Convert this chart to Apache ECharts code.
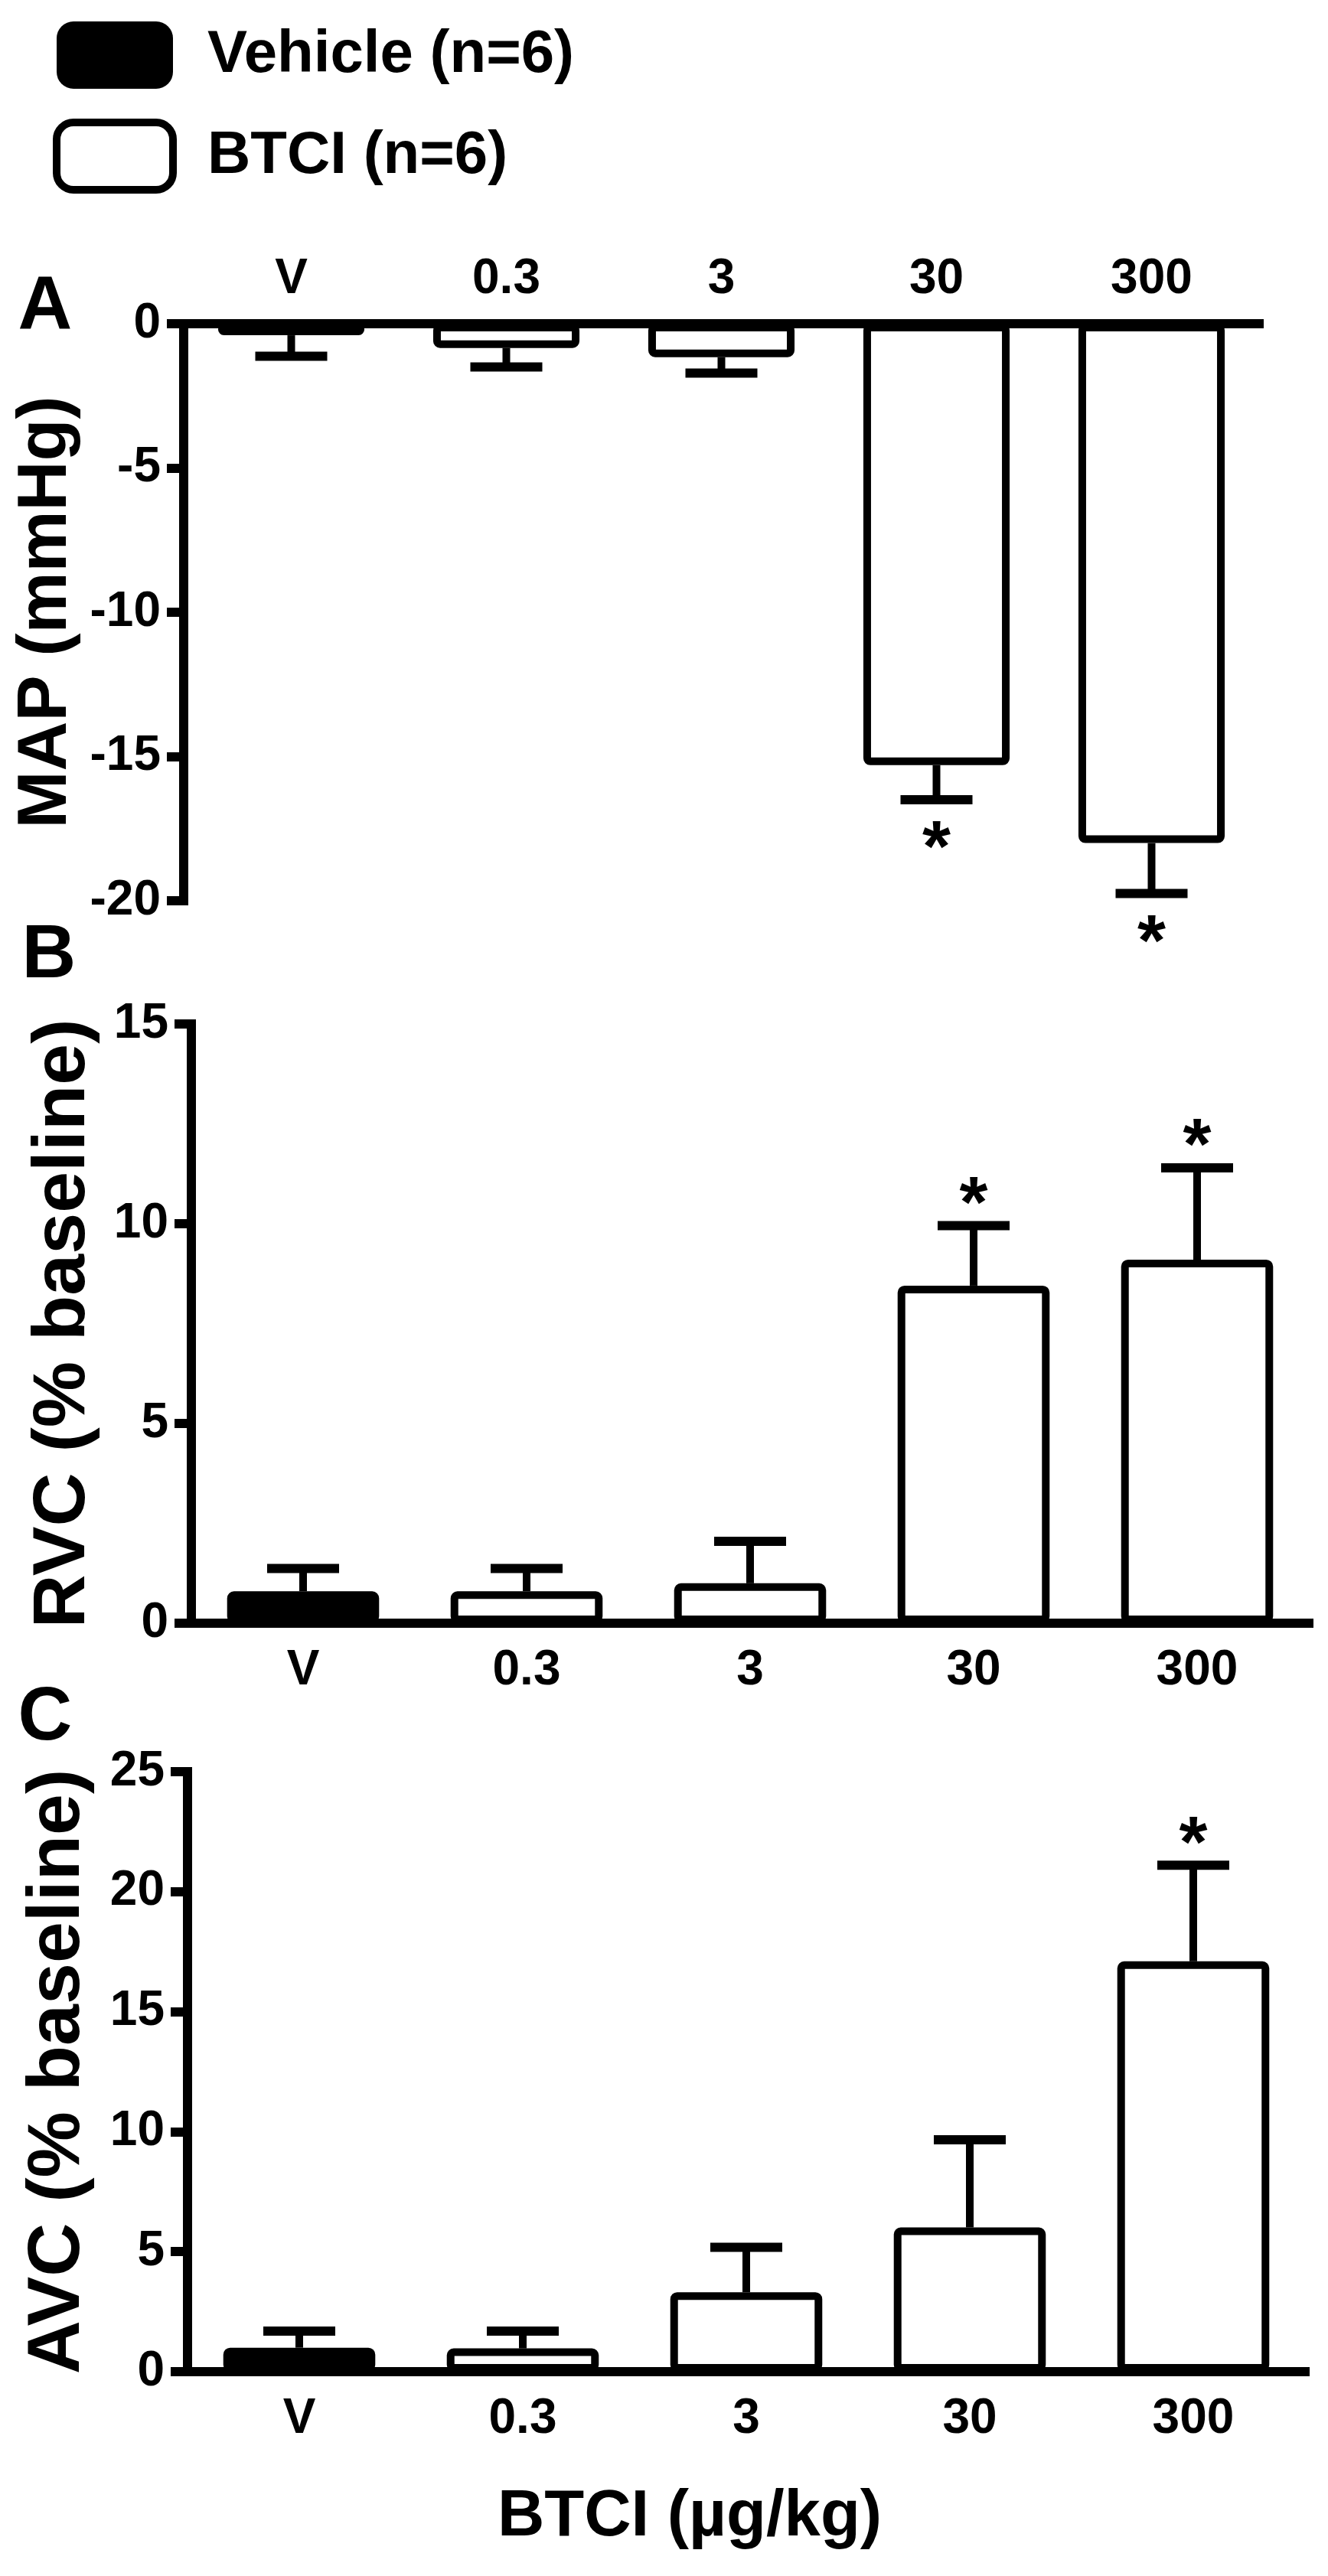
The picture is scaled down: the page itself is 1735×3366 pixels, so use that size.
<!DOCTYPE html>
<html>
<head>
<meta charset="utf-8">
<script src="https://cdn.jsdelivr.net/npm/echarts@6/dist/echarts.min.js"></script>
<style>
html,body{margin:0;padding:0;background:#fff;}
#chart{width:1735px;height:3366px;}
</style>
</head>
<body>
<div id="chart"></div>
<script>
// ---- data ----
const categories = ['V', '0.3', '3', '30', '300'];
const seriesNames = ['Vehicle (n=6)', 'BTCI (n=6)'];

const mapMean = [-0.4, -0.84, -1.16, -15.3, -18.0];
const mapErr  = [0.73, 0.66, 0.55, 1.2, 1.75];
const mapSig  = [0, 0, 0, 1, 1];

const rvcMean = [0.8, 0.8, 1.0, 8.45, 9.1];
const rvcErr  = [0.57, 0.57, 1.05, 1.5, 2.3];
const rvcSig  = [0, 0, 0, 1, 1];

const avcMean = [1.0, 0.97, 3.31, 6.01, 17.1];
const avcErr  = [0.69, 0.72, 1.87, 3.65, 4.0];
const avcSig  = [0, 0, 0, 0, 1];

const yTitles = ['MAP (mmHg)', 'RVC (% baseline)', 'AVC (% baseline)'];
const yRanges = [[-20, 0], [0, 15], [0, 25]];
const panelLetters = ['A', 'B', 'C'];
const xTitle = 'BTCI (\u00b5g/kg)';

// ---- styling ----
const FONT = '"Liberation Sans", Arial, Helvetica, sans-serif';
const chart = echarts.init(document.getElementById('chart'), null, {renderer: 'canvas'});

const grids = [
  {left: 240, top: 423, width: 1405, height: 754},
  {left: 250, top: 1338, width: 1460, height: 783},
  {left: 245, top: 2315, width: 1460, height: 784}
];
const nameGaps = [125, 118, 120];
const titleSizes = [90, 97, 97];
const panels = [
  {mean: mapMean, err: mapErr, sig: mapSig},
  {mean: rvcMean, err: rvcErr, sig: rvcSig},
  {mean: avcMean, err: avcErr, sig: avcSig}
];

const xAxes = grids.map((g, k) => ({
  type: 'category', gridIndex: k, data: categories,
  position: k === 0 ? 'top' : 'bottom',
  axisLine: {lineStyle: {color: '#000', width: 12, cap: 'square'}},
  axisTick: {alignWithLabel: true, length: 22, lineStyle: {color: '#000', width: 12}},
  axisLabel: {color: '#000', fontSize: 64, fontWeight: 'bold', fontFamily: FONT, margin: k === 0 ? 26 : 30}
}));

const yAxes = grids.map((g, k) => ({
  type: 'value', gridIndex: k, min: yRanges[k][0], max: yRanges[k][1], interval: 5,
  name: yTitles[k], nameLocation: 'middle', nameGap: nameGaps[k],
  nameTextStyle: {color: '#000', fontSize: titleSizes[k], fontWeight: 'bold', fontFamily: FONT},
  splitLine: {show: false},
  axisLine: {show: true, lineStyle: {color: '#000', width: 12, cap: 'square'}},
  axisTick: {show: true, length: 22, lineStyle: {color: '#000', width: 12}},
  axisLabel: {color: '#000', fontSize: 64, fontWeight: 'bold', fontFamily: FONT, margin: 30}
}));

const series = [];
panels.forEach((p, k) => {
  series.push({
    name: seriesNames[0], type: 'bar', xAxisIndex: k, yAxisIndex: k,
    barWidth: '68%', barGap: '-100%',
    data: p.mean.map((v, i) => i === 0 ? v : '-'),
    itemStyle: {color: '#000', borderColor: '#000', borderWidth: 10, borderRadius: 4},
    emphasis: {disabled: true}
  });
  series.push({
    name: seriesNames[1], type: 'bar', xAxisIndex: k, yAxisIndex: k,
    barWidth: '68%', barGap: '-100%',
    data: p.mean.map((v, i) => i === 0 ? '-' : v),
    itemStyle: {color: '#fff', borderColor: '#000', borderWidth: 10, borderRadius: 4},
    emphasis: {disabled: true}
  });
  series.push({
    type: 'custom', xAxisIndex: k, yAxisIndex: k, z: 5, silent: true,
    data: p.mean.map((v, i) => [i, v, p.err[i], p.sig[i]]),
    renderItem: function (params, api) {
      const i = api.value(0), m = api.value(1), e = api.value(2), s = api.value(3);
      const dir = m < 0 ? -1 : 1;
      const p0 = api.coord([i, m]);
      const p1 = api.coord([i, m + dir * e]);
      const children = [
        {type: 'line', shape: {x1: p0[0], y1: p0[1], x2: p1[0], y2: p1[1]},
         style: {stroke: '#000', lineWidth: 10}},
        {type: 'line', shape: {x1: p1[0] - 47, y1: p1[1], x2: p1[0] + 47, y2: p1[1]},
         style: {stroke: '#000', lineWidth: 12}}
      ];
      if (s) {
        const cy = p1[1] - dir * 46 + 21;
        children.push({type: 'text', style: {text: '*', x: p1[0], y: cy,
          font: 'bold 95px ' + FONT, fill: '#000', textAlign: 'center', textVerticalAlign: 'middle'}});
      }
      return {type: 'group', children: children};
    }
  });
});

const letterPos = [[59, 402], [64, 1250], [59, 2246]];
const graphics = panelLetters.map((t, k) => ({
  type: 'text', silent: true,
  style: {text: t, x: letterPos[k][0], y: letterPos[k][1], font: 'bold 98px ' + FONT,
          fill: '#000', textAlign: 'center', textVerticalAlign: 'middle'}
}));
graphics.push({
  type: 'text', silent: true,
  style: {text: xTitle, x: 901, y: 3290, font: 'bold 85px ' + FONT,
          fill: '#000', textAlign: 'center', textVerticalAlign: 'middle'}
});

chart.setOption({
  backgroundColor: '#fff',
  animation: false,
  legend: {
    orient: 'vertical', left: 64, top: 22, itemWidth: 152, itemHeight: 88, itemGap: 38,
    icon: 'roundRect', selectedMode: false,
    textStyle: {color: '#000', fontSize: 78, fontWeight: 'bold', fontFamily: FONT, padding: [0, 0, 0, 40], lineHeight: 90},
    data: [
      {name: seriesNames[0], itemStyle: {color: '#000', borderColor: '#000', borderWidth: 0}},
      {name: seriesNames[1], itemStyle: {color: '#fff', borderColor: '#000', borderWidth: 10}}
    ]
  },
  grid: grids,
  xAxis: xAxes,
  yAxis: yAxes,
  series: series,
  graphic: graphics
});
</script>
</body>
</html>
